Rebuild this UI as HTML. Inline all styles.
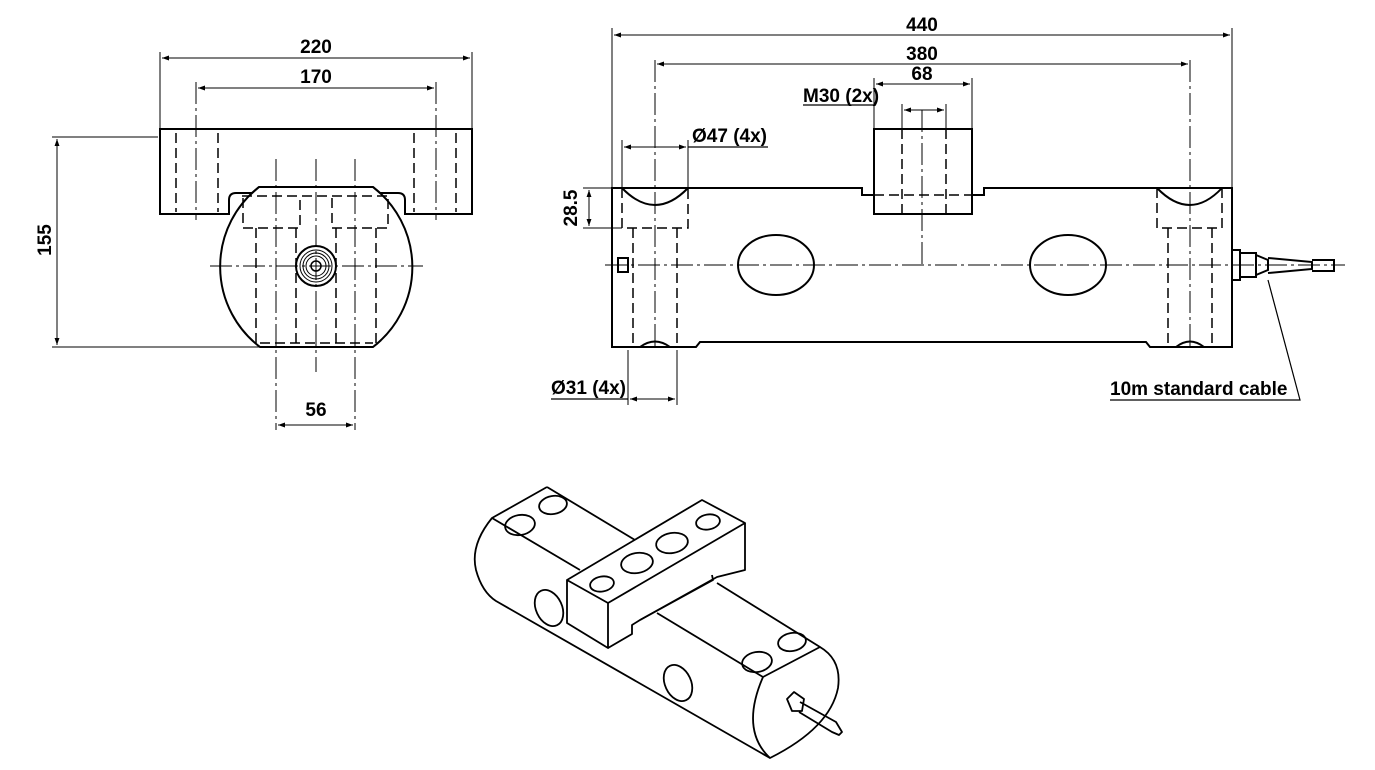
<!DOCTYPE html>
<html><head><meta charset="utf-8"><style>
html,body{margin:0;padding:0;background:#fff}
svg{display:block}
text{font-family:"Liberation Sans",sans-serif;font-weight:bold;font-size:19px;fill:#000}
</style></head><body>
<svg width="1375" height="770" viewBox="0 0 1375 770" xmlns="http://www.w3.org/2000/svg">
<defs>
<marker id="ae" viewBox="0 0 10 10" refX="10" refY="5" markerWidth="10" markerHeight="7" orient="auto" markerUnits="userSpaceOnUse"><path d="M0,1.5 L10,5 L0,8.5 z" fill="#000"/></marker>
</defs>
<g fill="none" stroke="#000" stroke-width="1">
<!-- LEFT VIEW -->
<g stroke-width="2">
<path d="M160,129 H472 V214 H405 V200 Q405,193 398,193 H380 L373,187 H259 L252,193 H236 Q229,193 229,200 V214 H160 Z"/>
<path d="M259,187 A101,101 0 0 0 260,347 H373 A101,101 0 0 0 373,187"/>
<circle cx="316" cy="266" r="20"/>
</g>
<circle cx="316" cy="266" r="16"/><circle cx="316" cy="266" r="13"/><circle cx="316" cy="266" r="10"/><circle cx="316" cy="266" r="5" stroke-width="1.5"/>
<g stroke-dasharray="10,5" stroke-width="1.5">
<path d="M176,133 V212 M218,133 V212 M414,133 V212 M456,133 V212"/>
<path d="M243,198 V228 H300 V198 M332,198 V228 H388 V198 M242,196 H390"/>
<path d="M256,228 V345 M296,228 V345 M336,228 V345 M376,228 V345 M260,343 H373"/>
</g>
<g stroke-dasharray="22,4,3,4">
<path d="M196,82 V220 M436,82 V220 M276,159 V430 M355,159 V430 M316,159 V372 M210,266 H423"/>
</g>
<path d="M160,52 V129 M472,52 V129 M52,137 H158 M52,347 H260"/>
<g marker-end="url(#ae)">
<path d="M316,58 H470"/><path d="M316,58 H162"/>
<path d="M316,88 H434"/><path d="M316,88 H198"/>
<path d="M57,240 V139"/><path d="M57,240 V345"/>
<path d="M316,425 H353"/><path d="M316,425 H278"/>
</g>
<!-- RIGHT VIEW -->
<g stroke-width="2">
<path d="M612,188 H862 V195 H874 V129 H972 V195 H984 V188 H1232 V347 H1150 L1146,342 H700 L696,347 H612 Z"/>
<path d="M874,195 V214 H972 V195"/>
<path d="M622,188 Q655,222 688,188 M1157,188 Q1190,222 1222,188 M640,347 Q655,336 670,347 M1176,347 Q1190,336 1204,347"/>
<ellipse cx="776" cy="265" rx="38" ry="30"/><ellipse cx="1068" cy="265" rx="38" ry="30"/>
<rect x="618" y="258" width="10" height="14"/>
<path d="M1232,250 H1240 V280 H1232 M1240,253 H1256 V277 H1240 M1256,255 L1268,260 V270 L1256,275 M1268,258 L1312,262 V269 L1268,273 M1312,260 H1334 V271 H1312"/>
</g>
<g stroke-dasharray="10,5" stroke-width="1.5">
<path d="M622,188 V228 H688 V188 M633,228 V347 M677,228 V347 M1157,188 V228 H1222 V188 M1168,228 V347 M1212,228 V347 M902,129 V214 M946,129 V214 M874,195 H972"/>
</g>
<g stroke-dasharray="22,4,3,4">
<path d="M605,265 H1345 M922,110 V265 M655,60 V350 M1190,60 V350"/>
</g>
<path d="M612,28 V188 M1232,28 V188 M874,78 V129 M972,78 V129 M902,104 V129 M946,104 V129 M622,140 V188 M688,140 V188 M583,188 H612 M583,228 H622 M628,350 V405 M677,350 V405"/>
<g marker-end="url(#ae)">
<path d="M922,35 H1230"/><path d="M922,35 H614"/>
<path d="M922,64 H1188"/><path d="M922,64 H657"/>
<path d="M922,84 H970"/><path d="M922,84 H876"/>
<path d="M924,110 H944"/><path d="M924,110 H904"/>
<path d="M655,147 H686"/><path d="M655,147 H624"/>
<path d="M589,208 V190"/><path d="M589,208 V226"/>
<path d="M652,399 H675"/><path d="M652,399 H630"/>
</g>
<path d="M803,105 H875 M688,147 H768 M551,399 H628 M1110,400 H1300 L1268,280" stroke-width="1.2"/>
<!-- ISOMETRIC -->
<g stroke-width="1.8" stroke-linejoin="round">
<path d="M547,487 L492,518 Q470,545 476,570 Q482,592 496,601 L770,758"/>
<path d="M763,677 L820,647 Q842,660 838,688 Q830,728 770,758 Q740,730 763,677"/>
<path d="M547,487 L635,540 M492,518 L580,570 M657,613 L763,677 M717,583 L820,647"/>
<path d="M567,580 L702,500 L745,523 L608,603 Z M567,580 V623 L608,648 V603"/>
<path d="M608,648 L632,634 V625 L640,620 L717,577 L745,570 V523"/>
<path d="M640,620 L713,580 L712,575"/>
<ellipse cx="602" cy="584" rx="12" ry="7.5" transform="rotate(-10 602 584)"/>
<ellipse cx="637" cy="563" rx="16" ry="10" transform="rotate(-10 637 563)"/>
<ellipse cx="672" cy="543" rx="16" ry="10" transform="rotate(-10 672 543)"/>
<ellipse cx="708" cy="522" rx="12" ry="7.5" transform="rotate(-10 708 522)"/>
<ellipse cx="520" cy="525" rx="15" ry="10" transform="rotate(-10 520 525)"/>
<ellipse cx="553" cy="505" rx="14" ry="9" transform="rotate(-10 553 505)"/>
<ellipse cx="757" cy="662" rx="15" ry="10" transform="rotate(-10 757 662)"/>
<ellipse cx="792" cy="642" rx="14" ry="9" transform="rotate(-10 792 642)"/>
<ellipse cx="549" cy="608" rx="13" ry="19" transform="rotate(-25 549 608)"/>
<ellipse cx="678" cy="683" rx="13" ry="19" transform="rotate(-25 678 683)"/>
<path d="M787,699 L794,692 L804,699 L802,711 L792,711 Z M800,702 L836,722 L842,732 L839,735 L832,732 L799,712"/>
</g>
</g>
<text x="316" y="53" text-anchor="middle">220</text>
<text x="316" y="83" text-anchor="middle">170</text>
<text x="316" y="416" text-anchor="middle">56</text>
<text transform="translate(51,240) rotate(-90)" text-anchor="middle">155</text>
<text x="922" y="31" text-anchor="middle">440</text>
<text x="922" y="60" text-anchor="middle">380</text>
<text x="922" y="80" text-anchor="middle">68</text>
<text x="803" y="102">M30 (2x)</text>
<text x="692" y="142">Ø47 (4x)</text>
<text transform="translate(577,208) rotate(-90)" text-anchor="middle">28.5</text>
<text x="551" y="394">Ø31 (4x)</text>
<text x="1110" y="395">10m standard cable</text>
</svg>
</body></html>
